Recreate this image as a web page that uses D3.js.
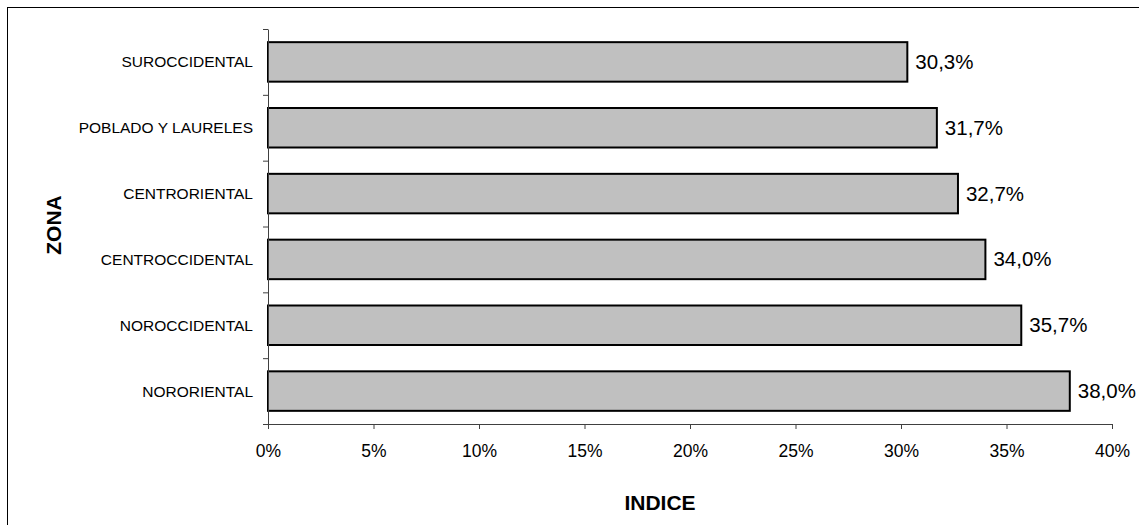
<!DOCTYPE html>
<html><head><meta charset="utf-8">
<script src="https://cdn.jsdelivr.net/npm/d3@7"></script>
<style>
html,body{margin:0;padding:0;background:#fff;}
svg{display:block;font-family:"Liberation Sans",Arial,sans-serif;}
</style></head>
<body>
<svg id="c" width="1139" height="525"></svg>
<script>
const categories = ["SUROCCIDENTAL","POBLADO Y LAURELES","CENTRORIENTAL","CENTROCCIDENTAL","NOROCCIDENTAL","NORORIENTAL"];
const values = [0.303, 0.317, 0.327, 0.340, 0.357, 0.380];
const xTicks = [0,0.05,0.10,0.15,0.20,0.25,0.30,0.35,0.40];
const xTitle = "INDICE";
const yTitle = "ZONA";

(function(){
const svg = d3.select("#c");
const pL = 268, pR = 1112, pT = 29, pB = 424;

svg.append("rect").attr("x",7.5).attr("y",7.5).attr("width",1140).attr("height",530)
  .attr("fill","none").attr("stroke","#000").attr("stroke-width",1);

const x = d3.scaleLinear().domain([0,0.4]).range([pL,pR]);
const y = d3.scaleBand().domain(categories).range([pT,pB]).paddingInner(0.4).paddingOuter(0.2);
const yb = d3.scaleLinear().domain([0,categories.length]).range([pT,pB]);

const loc = d3.formatLocale({decimal:",",thousands:".",grouping:[3],currency:["$",""]});
const fmtVal = loc.format(".1%");
const fmtTick = loc.format(".0%");

// bars
svg.append("g").selectAll("rect").data(categories).join("rect")
  .attr("x", x(0))
  .attr("y", d => y(d))
  .attr("width", (d,i) => x(values[i]) - x(0))
  .attr("height", y.bandwidth())
  .attr("fill","#c0c0c0").attr("stroke","#000").attr("stroke-width",2);

// value labels
svg.append("g").selectAll("text").data(categories).join("text")
  .attr("x", (d,i) => x(values[i]) + 8)
  .attr("y", d => y(d) + y.bandwidth()/2 + 7)
  .attr("font-size", 20.5).attr("fill","#000")
  .text((d,i) => fmtVal(values[i]));

// y axis (boundary ticks)
const gy = svg.append("g").attr("transform",`translate(${pL},0)`)
  .call(d3.axisLeft(yb).tickValues(d3.range(categories.length+1)).tickFormat("").tickSize(5).tickSizeOuter(0));
gy.selectAll("path,line").attr("stroke","#404040");

// category labels
svg.append("g").selectAll("text").data(categories).join("text")
  .attr("x", 253)
  .attr("y", d => y(d) + y.bandwidth()/2 + 5.5)
  .attr("text-anchor","end").attr("font-size",15.5).attr("fill","#000")
  .text(d => d);

// x axis
const gx = svg.append("g").attr("transform",`translate(0,${pB})`)
  .call(d3.axisBottom(x).tickValues(xTicks).tickFormat(fmtTick).tickSize(5).tickSizeOuter(0).tickPadding(0));
gx.selectAll("path,line").attr("stroke","#404040");
gx.selectAll("text").attr("font-size",17.5).attr("fill","#000")
  .attr("font-family",'"Liberation Sans",Arial,sans-serif')
  .attr("dy",null).attr("y",33);

// axis titles
svg.append("text").attr("x",660).attr("y",510).attr("text-anchor","middle")
  .attr("font-size",21).attr("font-weight","bold").text(xTitle);
svg.append("text").attr("transform","translate(61,225) rotate(-90)").attr("text-anchor","middle")
  .attr("font-size",21).attr("font-weight","bold").text(yTitle);
})();
</script>
</body></html>
